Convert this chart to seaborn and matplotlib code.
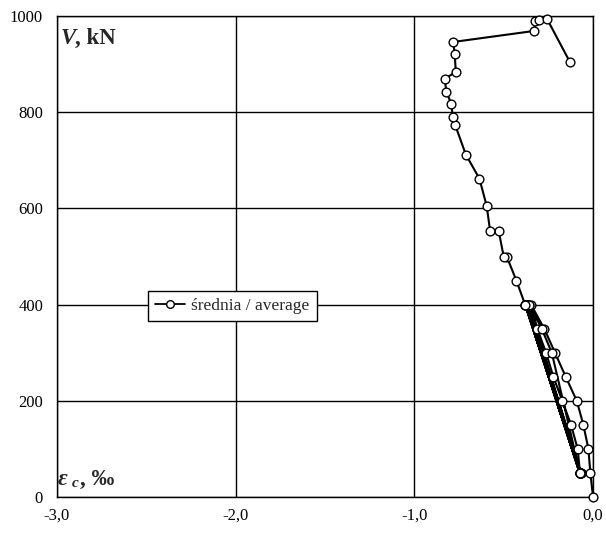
import matplotlib
matplotlib.use("Agg")
from matplotlib import pyplot as plt
from matplotlib.ticker import FuncFormatter
import seaborn as sns
import pandas as pd

# strain (per mille) and load (kN), in test order
eps = [0.0, -0.015, -0.026, -0.054, -0.091, -0.153, -0.213, -0.273, -0.347,
       -0.312, -0.263, -0.222, -0.172, -0.123, -0.086, -0.073,
       -0.360, -0.068, -0.364, -0.070, -0.368, -0.071, -0.371, -0.072,
       -0.374, -0.073, -0.377, -0.074, -0.379, -0.075, -0.380, -0.073,
       -0.231, -0.287, -0.356, -0.380,
       -0.429, -0.483, -0.500, -0.528, -0.576, -0.595, -0.636, -0.712,
       -0.771, -0.785, -0.793, -0.821, -0.830, -0.768, -0.774, -0.782,
       -0.328, -0.325, -0.300, -0.256, -0.129]
load = [0, 50, 100, 150, 200, 250, 300, 350, 400,
        350, 300, 250, 200, 150, 100, 50,
        400, 50, 400, 50, 400, 50, 400, 50,
        400, 50, 400, 50, 400, 50, 400, 50,
        300, 350, 400, 400,
        450, 500, 500, 553, 553, 605, 662, 712,
        773, 791, 817, 843, 869, 884, 920, 946,
        969, 989, 992, 993, 904]

x_ticks = [-3.0, -2.0, -1.0, 0.0]
y_ticks = [0, 200, 400, 600, 800, 1000]

df = pd.DataFrame({"eps": eps, "V": load, "series": "średnia / average"})

sns.set_style("white")
plt.rcParams["font.family"] = ["Liberation Serif", "DejaVu Serif"]

fig = plt.figure(figsize=(6.06, 5.42), dpi=100)
ax = fig.add_axes([0.094, 0.083, 0.8846, 0.8875])

sns.lineplot(data=df, x="eps", y="V", hue="series", palette=["black"],
             sort=False, estimator=None, marker="o", markersize=6.3,
             markerfacecolor="white", markeredgecolor="black",
             markeredgewidth=1.0, linewidth=1.5, ax=ax, zorder=3)
for ln in ax.lines:
    ln.set_clip_on(False)

ax.set_xlim(-3.0, 0.0)
ax.set_ylim(0, 1000)
ax.set_xticks(x_ticks)
ax.set_yticks(y_ticks)
ax.xaxis.set_major_formatter(FuncFormatter(lambda v, p: f"{v:.1f}".replace(".", ",")))
ax.tick_params(length=0, labelsize=12, colors="black", pad=8)
ax.tick_params(axis="y", pad=10)
ax.grid(True, color="black", linewidth=1.0)
for s in ax.spines.values():
    s.set_color("black")
    s.set_linewidth(1.0)
ax.set_xlabel("")
ax.set_ylabel("")

# axis names written inside the plot (figure pixels, origin bottom-left)
H = 542
tr = "figure pixels"
ax.annotate("V", (61, H - 44), xycoords=tr, fontsize=16.5, fontweight="bold",
            fontstyle="italic", va="baseline", ha="left")
ax.annotate(", kN", (75, H - 44), xycoords=tr, fontsize=16.5, fontweight="bold",
            va="baseline", ha="left")
ax.annotate("ε", (58, H - 485), xycoords=tr, fontsize=17, fontweight="bold",
            fontstyle="italic", va="baseline", ha="left")
ax.annotate("c", (72, H - 487), xycoords=tr, fontsize=11, fontweight="bold",
            fontstyle="italic", va="baseline", ha="left")
ax.annotate(", ‰", (80, H - 485), xycoords=tr, fontsize=16.5, fontweight="bold",
            va="baseline", ha="left")

leg = ax.legend(loc="center left", bbox_to_anchor=(0.170, 0.397), frameon=True,
                fancybox=False, fontsize=12.5, handlelength=1.7,
                handletextpad=0.4, borderpad=0.4, borderaxespad=0.0,
                edgecolor="black", framealpha=1.0)
leg.get_frame().set_linewidth(1.0)
for h in leg.legend_handles:
    h.set_markersize(5.5)
    h.set_linewidth(1.3)

fig.savefig("out.png", dpi=100)
